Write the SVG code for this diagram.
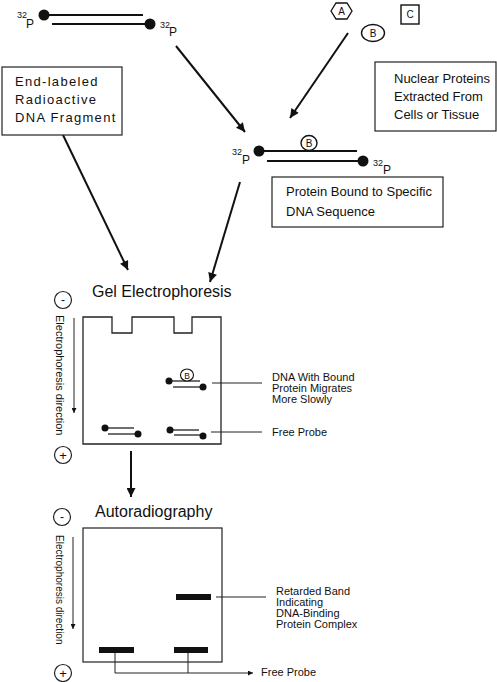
<svg xmlns="http://www.w3.org/2000/svg" width="497" height="682" viewBox="0 0 497 682">
<defs>
<marker id="ah" viewBox="0 0 10 10" refX="10" refY="5" markerWidth="11" markerHeight="9" markerUnits="userSpaceOnUse" orient="auto"><path d="M0,0 L10,5 L0,10 z" fill="#111"/></marker>
<marker id="ahs" viewBox="0 0 10 10" refX="10" refY="5" markerWidth="7" markerHeight="5" markerUnits="userSpaceOnUse" orient="auto"><path d="M0,0 L10,5 L0,10 z" fill="#111"/></marker>
</defs>
<style>
text{font-family:"Liberation Sans",Arial,sans-serif;fill:#111}
.box{fill:#fff;stroke:#222;stroke-width:1.2}
.dna{stroke:#111;stroke-width:1.8;fill:none}
.dnas{stroke:#111;stroke-width:1.2;fill:none}
.dot{fill:#111}
.arr{stroke:#111;stroke-width:2;fill:none;marker-end:url(#ah)}
.thin{stroke:#222;stroke-width:1;fill:none}
.lbl{font-size:13px}
.sm{font-size:11px}
.sup{font-size:9px}
.p{font-size:12px}
.title{font-size:16px}
.band{fill:#111}
.pm{fill:#fff;stroke:#222;stroke-width:1.2}
</style>

<g id="connectors">
<line class="arr" x1="176" y1="46" x2="245" y2="132"/>
<line class="arr" x1="348" y1="33" x2="290" y2="118"/>
<line class="arr" x1="63" y1="135" x2="128" y2="270"/>
<line class="arr" x1="240" y1="182" x2="210" y2="282"/>
<line class="arr" x1="131" y1="451" x2="131" y2="497"/>
</g>

<g id="free-dna">
<line class="dna" x1="44" y1="15" x2="143" y2="15"/>
<line class="dna" x1="52" y1="24" x2="150" y2="24"/>
<circle class="dot" cx="44" cy="15" r="5.5"/>
<circle class="dot" cx="150" cy="24" r="5.5"/>
<text class="sup" x="17" y="18">32</text><text class="p" x="26" y="28">P</text>
<text class="sup" x="160" y="28">32</text><text class="p" x="169" y="36">P</text>
</g>

<g id="proteins">
<polygon points="331,11 336,3 347,3 352,11 347,19 336,19" fill="#fff" stroke="#111" stroke-width="1.3"/>
<text x="341.5" y="15" font-size="10" text-anchor="middle">A</text>
<rect x="401" y="5" width="18" height="19" fill="#fff" stroke="#111" stroke-width="1.4"/>
<text x="410" y="18" font-size="10" text-anchor="middle">C</text>
<ellipse cx="373" cy="33" rx="11.5" ry="8.5" fill="#fff" stroke="#111" stroke-width="1.4"/>
<text x="373" y="37" font-size="10" text-anchor="middle">B</text>
</g>

<g id="end-labeled-box">
<rect class="box" x="2" y="67" width="120" height="68"/>
<text class="lbl" x="15" y="86" letter-spacing="1.3">End-labeled</text>
<text class="lbl" x="15" y="104" letter-spacing="1.3">Radioactive</text>
<text class="lbl" x="15" y="122" letter-spacing="1.3">DNA Fragment</text>
</g>

<g id="nuclear-box">
<rect class="box" x="375" y="62" width="121" height="69"/>
<text class="lbl" x="394" y="83">Nuclear Proteins</text>
<text class="lbl" x="394" y="101">Extracted From</text>
<text class="lbl" x="394" y="119">Cells or Tissue</text>
</g>

<g id="bound-dna">
<line class="dna" x1="259" y1="151" x2="357" y2="151"/>
<line class="dna" x1="267" y1="161" x2="363" y2="161"/>
<ellipse cx="309" cy="143" rx="8" ry="7.5" fill="#fff" stroke="#111" stroke-width="1.4"/>
<text x="309" y="147" font-size="10" text-anchor="middle">B</text>
<circle class="dot" cx="259" cy="151" r="5.5"/>
<circle class="dot" cx="363" cy="161" r="5.5"/>
<text class="sup" x="232" y="155">32</text><text class="p" x="242" y="164">P</text>
<text class="sup" x="373" y="166">32</text><text class="p" x="383" y="174">P</text>
</g>

<g id="protein-bound-box">
<rect class="box" x="272" y="177" width="171" height="50"/>
<text class="lbl" x="286" y="196">Protein Bound to Specific</text>
<text class="lbl" x="286" y="216">DNA Sequence</text>
</g>

<g id="gel">
<text class="title" x="92" y="297">Gel Electrophoresis</text>
<circle class="pm" cx="63" cy="300" r="8.5"/>
<text x="63" y="304" font-size="12" text-anchor="middle">-</text>
<circle class="pm" cx="63" cy="455" r="8.5"/>
<text x="63" y="459.5" font-size="13" text-anchor="middle">+</text>
<text class="sm" x="56" y="315" transform="rotate(90 56 315)">Electrophoresis direction</text>
<line x1="74" y1="318" x2="74" y2="413" stroke="#222" stroke-width="1" marker-end="url(#ahs)"/>
<path d="M83,317 H112 V333 H132 V317 H174 V333 H192 V317 H221 V444 H83 Z" fill="#fff" stroke="#222" stroke-width="1.3"/>
<line class="dnas" x1="169" y1="381" x2="200" y2="381"/>
<line class="dnas" x1="173" y1="387" x2="203" y2="387"/>
<ellipse cx="187" cy="375" rx="6.5" ry="6" fill="#fff" stroke="#111" stroke-width="1.1"/>
<text x="187" y="378.5" font-size="8.5" text-anchor="middle">B</text>
<circle class="dot" cx="169" cy="381" r="3.5"/>
<circle class="dot" cx="203" cy="387" r="3.5"/>
<line class="dnas" x1="105" y1="428" x2="134" y2="428"/>
<line class="dnas" x1="108" y1="434" x2="138" y2="434"/>
<circle class="dot" cx="105" cy="428" r="3.5"/>
<circle class="dot" cx="138" cy="434" r="3.5"/>
<line class="dnas" x1="170" y1="430" x2="199" y2="430"/>
<line class="dnas" x1="174" y1="435" x2="203" y2="435"/>
<circle class="dot" cx="170" cy="430" r="3.5"/>
<circle class="dot" cx="203" cy="436" r="3.5"/>
<line class="thin" x1="212" y1="383" x2="262" y2="383"/>
<line class="thin" x1="211" y1="432" x2="262" y2="432"/>
<text class="sm" x="272" y="381">DNA With Bound</text>
<text class="sm" x="272" y="392">Protein Migrates</text>
<text class="sm" x="272" y="403">More Slowly</text>
<text class="sm" x="272" y="436">Free Probe</text>
</g>

<g id="autoradiography">
<text class="title" x="95" y="517">Autoradiography</text>
<circle class="pm" cx="62" cy="517" r="8.5"/>
<text x="62" y="521" font-size="12" text-anchor="middle">-</text>
<circle class="pm" cx="63" cy="673" r="8.5"/>
<text x="63" y="677.5" font-size="13" text-anchor="middle">+</text>
<text x="56" y="535" font-size="10" transform="rotate(90 56 535)">Electrophoresis direction</text>
<line x1="73" y1="537" x2="73" y2="629" stroke="#222" stroke-width="1" marker-end="url(#ahs)"/>
<rect x="83" y="528" width="139" height="134" fill="#fff" stroke="#222" stroke-width="1.2"/>
<rect class="band" x="176" y="594" width="35" height="6"/>
<rect class="band" x="99" y="647" width="35" height="6"/>
<rect class="band" x="174" y="647" width="34" height="6"/>
<line class="thin" x1="216" y1="597" x2="266" y2="597"/>
<text class="sm" x="276" y="595">Retarded Band</text>
<text class="sm" x="276" y="606">Indicating</text>
<text class="sm" x="276" y="617">DNA-Binding</text>
<text class="sm" x="276" y="628">Protein Complex</text>
<polyline class="thin" points="115,653 115,673"/>
<polyline class="thin" points="188,653 188,673"/>
<line x1="115" y1="673" x2="253" y2="673" stroke="#222" stroke-width="1" marker-end="url(#ahs)"/>
<text class="sm" x="261" y="676">Free Probe</text>
</g>
</svg>
